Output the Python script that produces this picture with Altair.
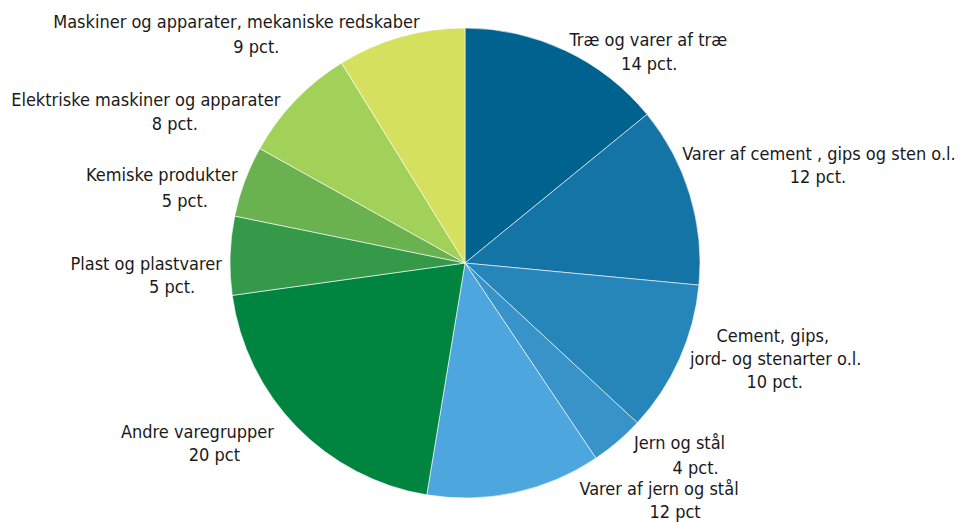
import altair as alt
import pandas as pd

# ---- data ----
categories = [
    "Træ og varer af træ",
    "Varer af cement , gips og sten o.l.",
    "Cement, gips, jord- og stenarter o.l.",
    "Jern og stål",
    "Varer af jern og stål",
    "Andre varegrupper",
    "Plast og plastvarer",
    "Kemiske produkter",
    "Elektriske maskiner og apparater",
    "Maskiner og apparater, mekaniske redskaber",
]
values = [14.1, 12.4, 10.4, 3.7, 12.0, 20.2, 5.4, 4.9, 8.1, 8.8]
name_lines = [
    ["Træ og varer af træ"],
    ["Varer af cement , gips og sten o.l."],
    ["Cement, gips,", "jord- og stenarter o.l."],
    ["Jern og stål"],
    ["Varer af jern og stål"],
    ["Andre varegrupper"],
    ["Plast og plastvarer"],
    ["Kemiske produkter"],
    ["Elektriske maskiner og apparater"],
    ["Maskiner og apparater, mekaniske redskaber"],
]
pct_labels = ["14 pct.", "12 pct.", "10 pct.", "4 pct.", "12 pct", "20 pct",
              "5 pct.", "5 pct.", "8 pct.", "9 pct."]

# ---- styling ----
colors = ["#00628F", "#1374A5", "#2686BA", "#3893C9", "#4DA6DD",
          "#008540", "#349A4A", "#6AB14F", "#A2D15A", "#D5E05E"]
FONT = "DejaVu Sans Condensed, sans-serif"
FONT_SIZE = 18
LABEL_RADIUS = 255
# pixel offsets (dx, dy) of each text line from its slice's mid-angle anchor
LAYOUT = [
    [(74, 13), (75, 37)],
    [(110, -29), (109, -6)],
    [(75, -25), (78, -2), (77, 21)],
    [(49, -8), (65, 17)],
    [(140, -17), (156, 6)],
    [(-85, -3), (-68, 20)],
    [(-64, 15), (-38, 38)],
    [(-64, 7), (-41, 33)],
    [(-135, 19), (-106, 43)],
    [(-159, 10), (-139, 35)],
]

df = pd.DataFrame({
    "kategori": categories,
    "andel": values,
    "orden": list(range(len(categories))),
})

pie = alt.Chart(df).mark_arc(outerRadius=235, stroke="white", strokeWidth=0.6).encode(
    theta=alt.Theta("andel:Q", stack=True),
    order=alt.Order("orden:Q", sort="ascending"),
    color=alt.Color("kategori:N", scale=alt.Scale(domain=categories, range=colors), legend=None),
)

base_text = alt.Chart(df).transform_window(
    cum="sum(andel)", sort=[alt.SortField("orden", order="ascending")],
    frame=[None, 0],
).transform_calculate(
    mid="datum.cum - datum.andel / 2"
)

layers = [pie]
for i in range(len(categories)):
    lines = name_lines[i] + [pct_labels[i]]
    for j, txt in enumerate(lines):
        dx, dy = LAYOUT[i][j]
        layers.append(
            base_text.transform_filter(alt.datum.orden == i).mark_text(
                radius=LABEL_RADIUS, dx=dx, dy=dy, align="center", baseline="alphabetic",
                font=FONT, fontSize=FONT_SIZE, color="#1a1a1a",
            ).encode(
                theta=alt.Theta("mid:Q"),
                text=alt.value(txt),
            )
        )

chart = alt.layer(*layers).properties(
    width=914, height=502,
    autosize=alt.AutoSizeParams(type="none"),
    padding={"left": 0, "top": 4, "right": 37, "bottom": 8},
).configure_view(stroke=None)

chart.save("out.html", embed_options={"renderer": "svg", "actions": False})
